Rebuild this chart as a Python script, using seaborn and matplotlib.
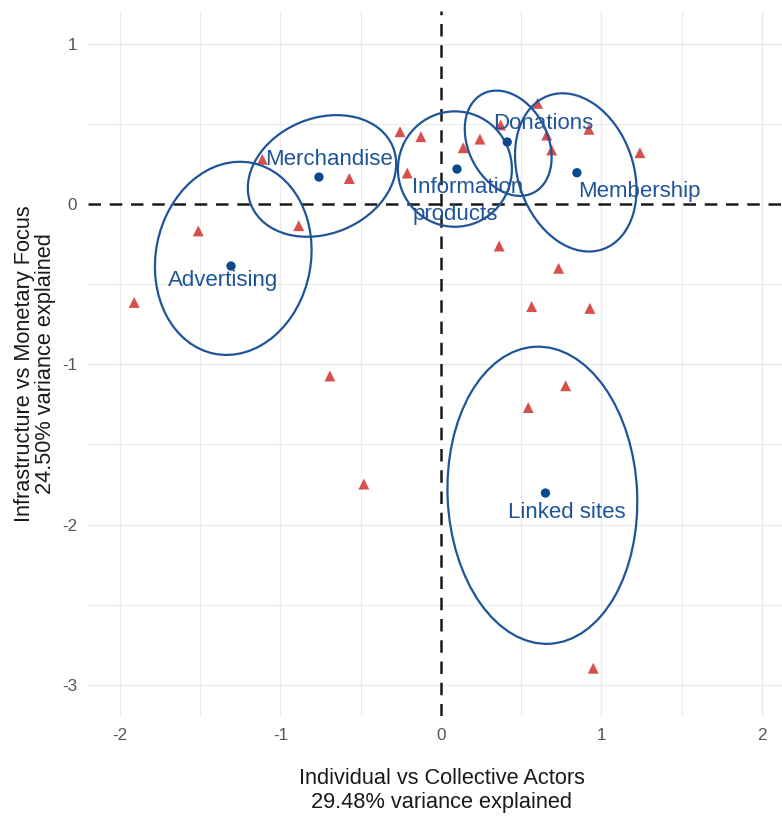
import matplotlib
matplotlib.use("Agg")
import matplotlib.pyplot as plt
from matplotlib.patches import Ellipse
import seaborn as sns
import pandas as pd

# category centroids (blue dots)
categories = ["Advertising", "Merchandise", "Information\nproducts",
              "Donations", "Membership", "Linked sites"]
cent_x = [-1.308, -0.760, 0.100, 0.413, 0.847, 0.651]
cent_y = [-0.387, 0.168, 0.218, 0.387, 0.195, -1.803]

# confidence ellipses per category
ell_x = [-1.294, -0.741, 0.087, 0.419, 0.840, 0.632]
ell_y = [-0.339, 0.175, 0.218, 0.379, 0.197, -1.817]
ell_w = [1.213, 0.955, 0.710, 0.693, 1.016, 1.855]
ell_h = [0.966, 0.720, 0.720, 0.494, 0.718, 1.181]
ell_angle = [79, 22.5, 0, 117, 109.5, 92.7]

# label anchor positions
lab_x = [-1.358, -0.700, -0.179, 0.639, 1.237, 0.783]
lab_y = [-0.480, 0.278, 0.020, 0.505, 0.080, -1.925]
lab_ha = ["center", "center", "left", "center", "center", "center"]

# individual cases (red triangles)
tri_x = [-1.113, -0.571, -0.255, -0.125, -0.210, -1.512, -0.886, -1.911,
         -0.692, 0.139, 0.243, 0.372, 0.602, 0.659, 0.690, 0.922, 1.240,
         0.363, 0.733, 0.565, 0.928, 0.777, 0.544, 0.949, -0.480]
tri_y = [0.279, 0.159, 0.451, 0.420, 0.193, -0.168, -0.135, -0.614,
         -1.073, 0.351, 0.405, 0.493, 0.628, 0.430, 0.337, 0.466, 0.320,
         -0.262, -0.401, -0.640, -0.651, -1.134, -1.270, -2.896, -1.747]

x_ticks = [-2, -1, 0, 1, 2]
y_ticks = [-3, -2, -1, 0, 1]

BLUE = "#1F5598"
DOT = "#0C4A8C"
RED = "#D6504D"

sns.set_style("white")
plt.rcParams["font.family"] = ["Liberation Sans", "DejaVu Sans"]

fig = plt.figure(figsize=(7.82, 8.18), dpi=100)
ax = fig.add_axes([88 / 782, 1 - 716 / 818, 694 / 782, 705 / 818])

# grid
for v in [-2.0, -1.5, -1.0, -0.5, 0.5, 1.0, 1.5, 2.0]:
    ax.axvline(v, color="#EBEBEB", lw=1.0 if v % 1 == 0 else 0.8, zorder=0)
for v in [-3.0, -2.5, -2.0, -1.5, -1.0, -0.5, 0.5, 1.0]:
    ax.axhline(v, color="#EBEBEB", lw=1.0 if v % 1 == 0 else 0.8, zorder=0)

ax.axvline(0, color="#1A1A1A", lw=1.8, ls=(0, (5, 3.5)), zorder=1)
ax.axhline(0, color="#1A1A1A", lw=1.8, ls=(0, (5, 3.5)), zorder=1)

tri_df = pd.DataFrame({"x": tri_x, "y": tri_y})
sns.scatterplot(data=tri_df, x="x", y="y", marker="^", s=62, color=RED,
                edgecolor="none", ax=ax, zorder=3)

for cx, cy, w, h, a in zip(ell_x, ell_y, ell_w, ell_h, ell_angle):
    ax.add_patch(Ellipse((cx, cy), w, h, angle=a, fill=False,
                         edgecolor=BLUE, lw=1.6, zorder=4))

cent_df = pd.DataFrame({"x": cent_x, "y": cent_y, "cat": categories})
sns.scatterplot(data=cent_df, x="x", y="y", s=45, color=DOT,
                edgecolor="none", ax=ax, zorder=5)

for name, lx, ly, ha in zip(categories, lab_x, lab_y, lab_ha):
    ax.text(lx, ly, name, ha=ha, va="center", fontsize=16, color=BLUE,
            linespacing=1.38, zorder=6)

ax.set_xlim(-2.199, 2.125)
ax.set_ylim(-3.194, 1.204)
ax.set_xticks(x_ticks)
ax.set_yticks(y_ticks)
ax.set_xticklabels([str(t) for t in x_ticks])
ax.set_yticklabels([str(t) for t in y_ticks])
ax.tick_params(length=0, labelsize=12.3, labelcolor="#555555")
ax.tick_params(axis="x", pad=9)
ax.tick_params(axis="y", pad=8)
for s in ax.spines.values():
    s.set_visible(False)

ax.set_xlabel("Individual vs Collective Actors\n29.48% variance explained",
              fontsize=15.7, color="#1A1A1A", linespacing=1.15)
ax.set_ylabel("Infrastructure vs Monetary Focus\n24.50% variance explained",
              fontsize=15.7, color="#1A1A1A", linespacing=1.05)
ax.xaxis.set_label_coords(0.5098, -0.1055)
ax.xaxis.label.set_va("center")
ax.yaxis.set_label_coords(-0.0765, 0.5)
ax.yaxis.label.set_va("center")

fig.savefig("out.png", dpi=100)
